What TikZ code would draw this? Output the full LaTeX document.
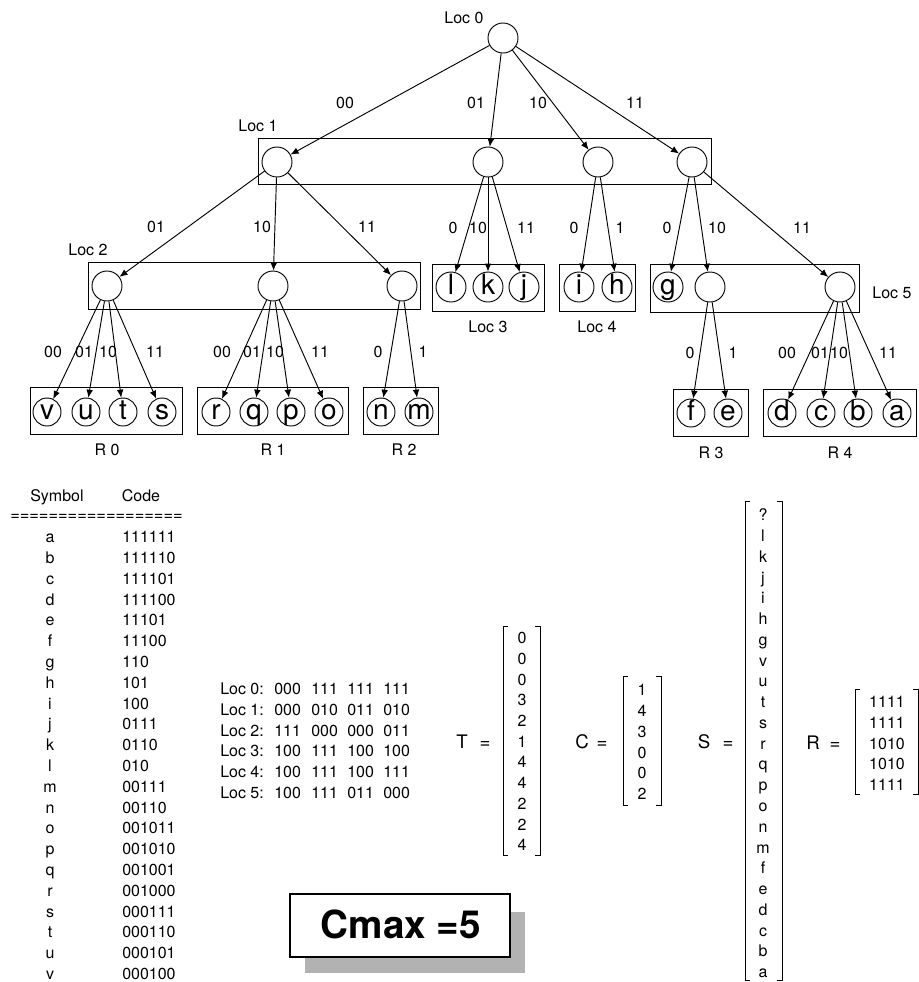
\documentclass[tikz,border=0pt]{standalone}
\usepackage{fontspec}
\setmainfont{TeX Gyre Heros}
\usetikzlibrary{arrows.meta}
\begin{document}
\begin{tikzpicture}[x=0.75pt,y=-0.75pt,
  lbl/.style={font=\fontsize{12}{13}\selectfont, inner sep=0pt, text height=8.6pt, text depth=0pt},
  big/.style={font=\fontsize{14}{16}\selectfont, inner sep=0pt, text height=10pt, text depth=0pt},
  loccirc/.style={circle, draw, line width=0.7pt, minimum size=22.5pt, inner sep=0pt, font=\fontsize{21}{23}\selectfont, text height=11.5pt, text depth=0pt},
  leaf/.style={loccirc, minimum size=21pt},
  arr/.style={-{Latex[length=6pt,width=5pt]}, line width=0.7pt},
  grp/.style={draw, line width=0.7pt},
  brk/.style={line width=0.7pt}
]
\useasboundingbox (0,0) rectangle (919,982);

% ---------------- tree ----------------
\node[loccirc] (L0) at (503,38) {};
\node[lbl] (tL0) at (464,18) {Loc 0};

\draw[grp] (258,138) rectangle (711,184);
\node[lbl] (tL1) at (258,126) {Loc 1};
\node[loccirc] (A1) at (277,162) {};
\node[loccirc] (A2) at (488,162) {};
\node[loccirc] (A3) at (598,162) {};
\node[loccirc] (A4) at (692,162) {};

\draw[grp] (88,262) rectangle (420,309);
\node[lbl] (tL2) at (88,250) {Loc 2};
\node[loccirc] (B1) at (107,286) {};
\node[loccirc] (B2) at (273,286) {};
\node[loccirc] (B3) at (402,286) {};

\draw[grp] (432,264) rectangle (544,311);
\node[lbl] (tL3) at (488,327) {Loc 3};
\node[loccirc] (l) at (451,287) {l};
\node[loccirc] (k) at (488,287) {k};
\node[loccirc] (j) at (524,287) {j};

\draw[grp] (559,264) rectangle (635,311);
\node[lbl] (tL4) at (597,327) {Loc 4};
\node[loccirc] (i) at (579,287) {i};
\node[loccirc] (h) at (617,287) {h};

\draw[grp] (650,264) rectangle (859,312);
\node[lbl] (tL5) at (892,293) {Loc 5};
\node[loccirc] (g) at (668,287) {g};
\node[loccirc] (E2) at (710,287) {};
\node[loccirc] (E3) at (840,287) {};

% leaves
\draw[grp] (30,387) rectangle (182,434);
\node[lbl] (tR0) at (107,450) {R 0};
\node[leaf] (v) at (47,412) {v};
\node[leaf] (u) at (86,412) {u};
\node[leaf] (t) at (123,412) {t};
\node[leaf] (s) at (162,412) {s};

\draw[grp] (197,387) rectangle (348,434);
\node[lbl] (tR1) at (273,450) {R 1};
\node[leaf] (r) at (216,412) {r};
\node[leaf] (q) at (254,412) {q};
\node[leaf] (p) at (291,412) {p};
\node[leaf] (o) at (329,412) {o};

\draw[grp] (363,387) rectangle (438,434);
\node[lbl] (tR2) at (404,450) {R 2};
\node[leaf] (n) at (381,412) {n};
\node[leaf] (m) at (419,412) {m};

\draw[grp] (673,389) rectangle (748,436);
\node[lbl] (tR3) at (711,453) {R 3};
\node[leaf] (f) at (691,413) {f};
\node[leaf] (e) at (728,413) {e};

\draw[grp] (763,389) rectangle (916,436);
\node[lbl] (tR4) at (840,453) {R 4};
\node[leaf] (d) at (782,413) {d};
\node[leaf] (c) at (821,413) {c};
\node[leaf] (b) at (858,413) {b};
\node[leaf] (a) at (897,413) {a};

% connectors
\draw[arr] (L0) -- (A1);
\draw[arr] (L0) -- (A2);
\draw[arr] (L0) -- (A3);
\draw[arr] (L0) -- (A4);
\draw[arr] (A1) -- (B1);
\draw[arr] (A1) -- (B2);
\draw[arr] (A1) -- (B3);
\draw[arr] (A2) -- (l);
\draw[arr] (A2) -- (k);
\draw[arr] (A2) -- (j);
\draw[arr] (A3) -- (i);
\draw[arr] (A3) -- (h);
\draw[arr] (A4) -- (g);
\draw[arr] (A4) -- (E2);
\draw[arr] (A4) -- (E3);
\foreach \x in {v,u,t,s} \draw[arr] (B1) -- (\x);
\foreach \x in {r,q,p,o} \draw[arr] (B2) -- (\x);
\foreach \x in {n,m} \draw[arr] (B3) -- (\x);
\foreach \x in {f,e} \draw[arr] (E2) -- (\x);
\foreach \x in {d,c,b,a} \draw[arr] (E3) -- (\x);

% edge labels
\node[lbl] at (345,103) {00};
\node[lbl] at (476,103) {01};
\node[lbl] at (538,103) {10};
\node[lbl] at (635,103) {11};

\node[lbl] at (156,227) {01};
\node[lbl] at (262,227) {10};
\node[lbl] at (367,227) {11};
\node[lbl] at (453,228) {0};
\node[lbl] at (478,228) {10};
\node[lbl] at (526,228) {11};
\node[lbl] at (574,228) {0};
\node[lbl] at (620,228) {1};
\node[lbl] at (667,228) {0};
\node[lbl] at (717,228) {10};
\node[lbl] at (802,228) {11};

\node[lbl] at (53,352) {00};
\node[lbl] at (84,352) {01};
\node[lbl] at (108,352) {10};
\node[lbl] at (155,352) {11};
\node[lbl] at (222,352) {00};
\node[lbl] at (252,352) {01};
\node[lbl] at (275,352) {10};
\node[lbl] at (320,352) {11};
\node[lbl] at (378,352) {0};
\node[lbl] at (423,352) {1};
\node[lbl] at (690,353) {0};
\node[lbl] at (733,353) {1};
\node[lbl] at (787,353) {00};
\node[lbl] at (820,353) {01};
\node[lbl] at (839,353) {10};
\node[lbl] at (888,353) {11};

% ---------------- code table ----------------
\node[lbl] (hsym) at (57,496) {Symbol};
\node[lbl] (hcode) at (141,496) {Code};
\node[font=\fontsize{12.3}{13}\selectfont, inner sep=0pt, anchor=west] (hline) at (10,517) {==================};
\foreach \sy/\cd [count=\ii from 0] in {a/111111,b/111110,c/111101,d/111100,e/11101,f/11100,g/110,h/101,i/100,j/0111,k/0110,l/010,m/00111,n/00110,o/001011,p/001010,q/001001,r/001000,s/000111,t/000110,u/000101,v/000100} {
  \node[lbl] (sym\ii) at (50,{537+20.8*\ii}) {\sy};
  \node[lbl, anchor=west] (code\ii) at (122,{537+20.8*\ii}) {\cd};
}

% ---------------- loc table ----------------
\foreach \ca/\cb/\cc/\cdd [count=\ii from 0] in {000/111/111/111,000/010/011/010,111/000/000/011,100/111/100/100,100/111/100/111,100/111/011/000} {
  \node[lbl, anchor=west] (lr\ii) at (220,{689+20.7*\ii}) {Loc \ii:};
  \node[lbl, anchor=west] at (274,{689+20.7*\ii}) {\ca};
  \node[lbl, anchor=west] at (311,{689+20.7*\ii}) {\cb};
  \node[lbl, anchor=west] at (347,{689+20.7*\ii}) {\cc};
  \node[lbl, anchor=west] at (383,{689+20.7*\ii}) {\cdd};
}

% ---------------- matrices ----------------
% T
\node[big] (Tl) at (462,742) {T};
\node[big] (Te) at (485,742) {=};
\draw[brk] (508,626) -- (503,626) -- (503,855) -- (508,855);
\draw[brk] (535,626) -- (540,626) -- (540,855) -- (535,855);
\foreach \vv [count=\ii from 0] in {0,0,0,3,2,1,4,4,2,2,4}
  \node[lbl] (T\ii) at (522,{638+20.7*\ii}) {\vv};

% C
\node[big] (Cl) at (582,742) {C};
\node[big] (Ce) at (602,742) {=};
\draw[brk] (628,676) -- (623,676) -- (623,805) -- (628,805);
\draw[brk] (656,676) -- (661,676) -- (661,805) -- (656,805);
\foreach \vv [count=\ii from 0] in {1,4,3,0,0,2}
  \node[lbl] (C\ii) at (642,{690+20.8*\ii}) {\vv};

% S
\node[big] (Sl) at (704,742) {S};
\node[big] (Se) at (728,742) {=};
\draw[brk] (750,501) -- (745,501) -- (745,980) -- (750,980);
\draw[brk] (777,501) -- (782,501) -- (782,980) -- (777,980);
\foreach \vv [count=\ii from 0] in {?,l,k,j,i,h,g,v,u,t,s,r,q,p,o,n,m,f,e,d,c,b,a}
  \node[lbl] (S\ii) at (763,{515+20.77*\ii}) {\vv};

% R
\node[big] (Rl) at (813,743) {R};
\node[big] (Re) at (835,743) {=};
\draw[brk] (860,689) -- (855,689) -- (855,794) -- (860,794);
\draw[brk] (913,689) -- (918,689) -- (918,794) -- (913,794);
\foreach \vv [count=\ii from 0] in {1111,1111,1010,1010,1111}
  \node[lbl] (R\ii) at (887,{702+20.75*\ii}) {\vv};

% ---------------- Cmax ----------------
\fill[gray!60] (305,912) rectangle (525,973);
\draw[line width=1.4pt, fill=white] (290,894) rectangle (510,957);
\node[anchor=base, inner sep=0pt, font=\bfseries\fontsize{29}{32}\selectfont] (cmax) at (401,938) {Cmax =5};
\end{tikzpicture}
\end{document}
